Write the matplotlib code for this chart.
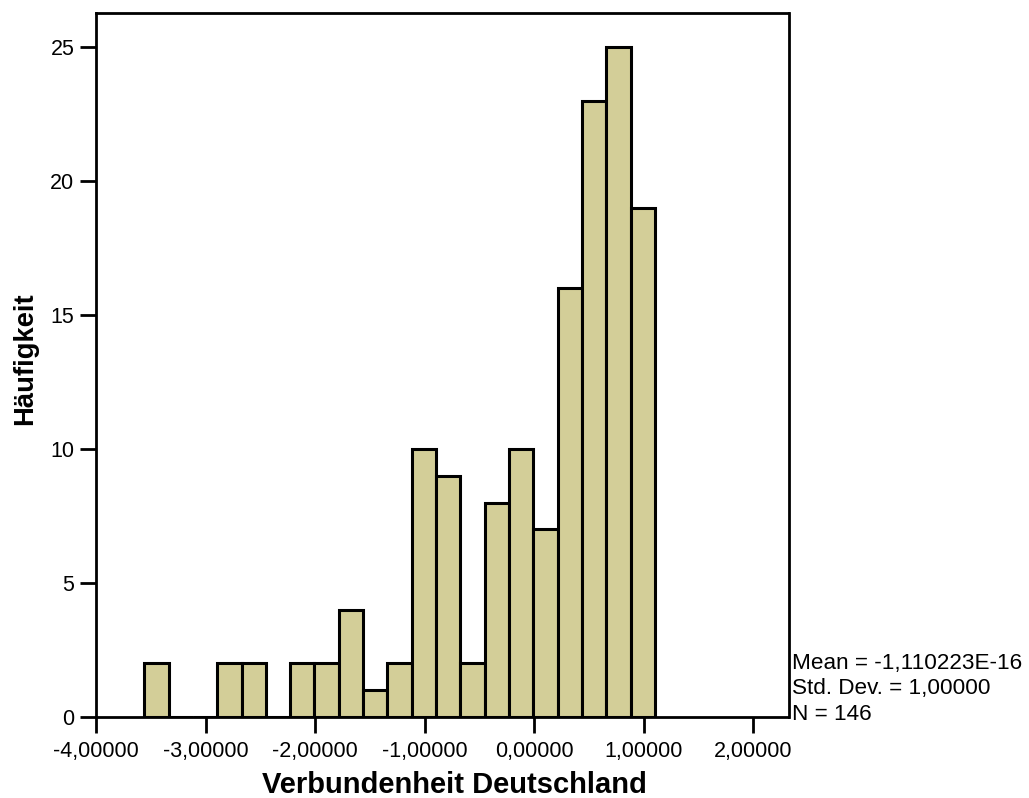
import numpy as np
import matplotlib
matplotlib.use("Agg")
import matplotlib.pyplot as plt

# histogram of Verbundenheit Deutschland (z-scores), N = 146
counts = [2, 0, 0, 2, 2, 0, 2, 2, 4, 1, 2, 10, 9, 2, 8, 10, 7, 16, 23, 25, 19]
bin_start = -3.56
bin_width = 0.222
x_ticks = [-4, -3, -2, -1, 0, 1, 2]
x_ticklabels = ["-4,00000", "-3,00000", "-2,00000", "-1,00000", "0,00000", "1,00000", "2,00000"]
y_ticks = [0, 5, 10, 15, 20, 25]
stats_lines = ["Mean = -1,110223E-16", "Std. Dev. = 1,00000", "N = 146"]

plt.rcParams['font.family'] = ['Liberation Sans', 'DejaVu Sans']

fig = plt.figure(figsize=(10.29, 7.98), dpi=100)
ax = fig.add_axes([96 / 1029, 1 - 717 / 798, (788.5 - 96) / 1029, (717 - 12.5) / 798])

lefts = bin_start + bin_width * np.arange(len(counts))
ax.bar(lefts, counts, width=bin_width, align='edge', color='#d3ce98',
       edgecolor='black', linewidth=2.2)

ax.set_xlim(-4, 2.32)
ax.set_ylim(0, 26.3)
ax.set_xticks(x_ticks)
ax.set_xticklabels(x_ticklabels)
ax.set_yticks(y_ticks)
ax.tick_params(axis='both', direction='out', length=11.5, width=2, labelsize=15.5, colors='black')
ax.tick_params(axis='x', pad=6)
ax.tick_params(axis='y', pad=4)
for s in ax.spines.values():
    s.set_linewidth(2)

ax.set_xlabel("Verbundenheit Deutschland", fontsize=21, fontweight='bold', va='baseline')
ax.xaxis.set_label_coords(0.517, -0.1079)
ax.set_ylabel("Häufigkeit", fontsize=19.7, fontweight='bold', va='baseline')
ax.yaxis.set_label_coords(-0.092, 0.509)

for i, line in enumerate(stats_lines):
    fig.text(792.5 / 1029, 1 - (668.5 + i * 25.5) / 798, line, fontsize=16.2, va='baseline', ha='left')

fig.savefig("out.png", dpi=100)
